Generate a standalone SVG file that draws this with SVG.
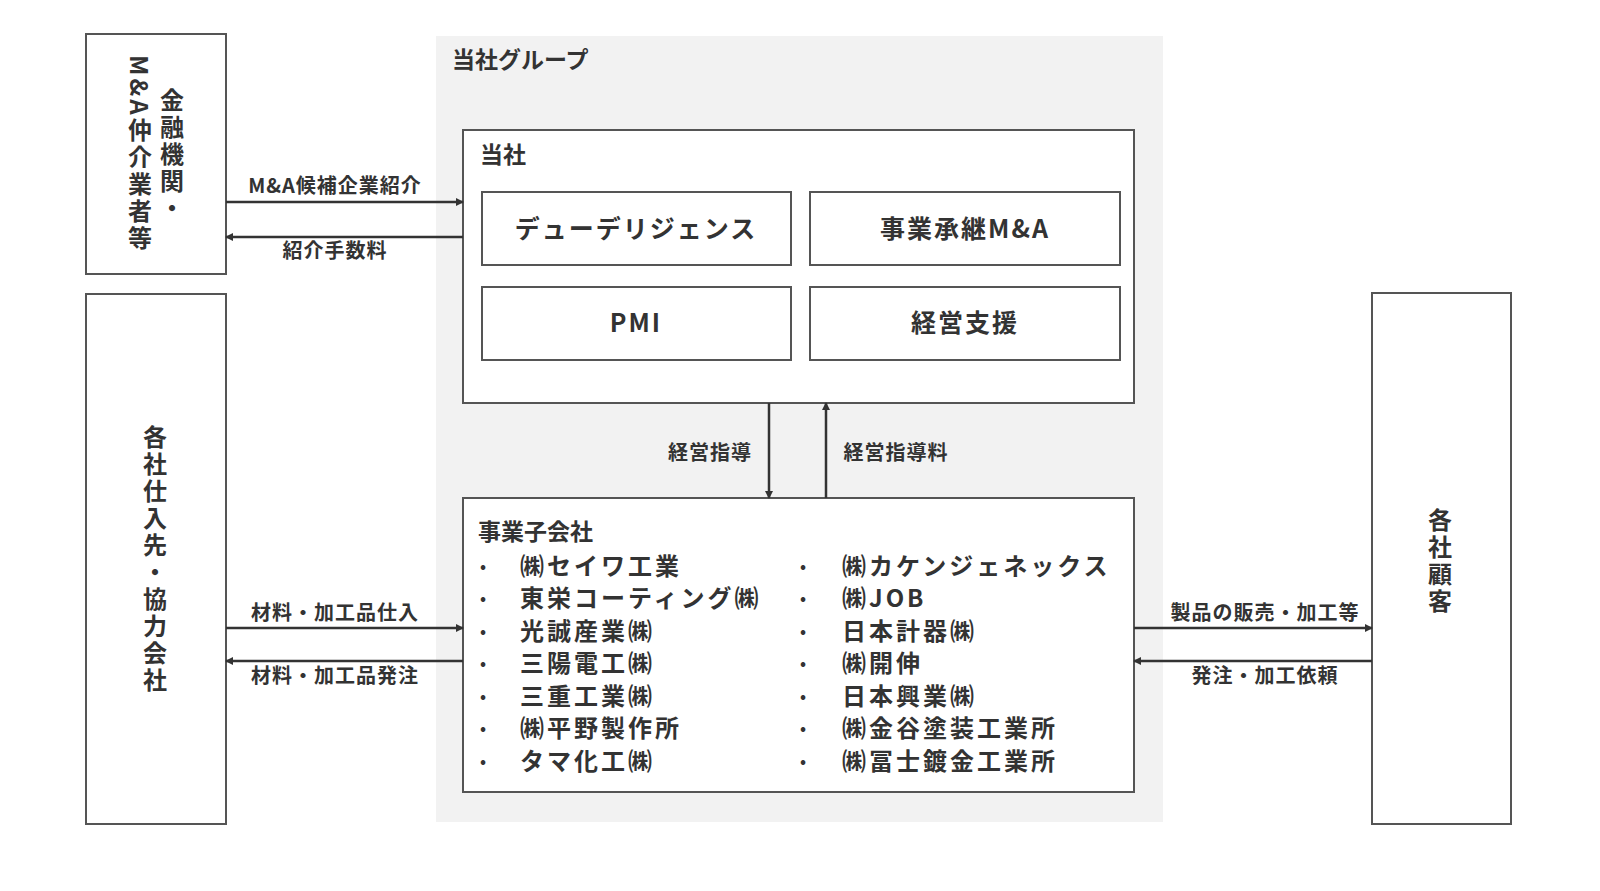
<svg xmlns="http://www.w3.org/2000/svg" width="1600" height="891" viewBox="0 0 1600 891">
<style>
text{font-family:"Noto Sans CJK JP","Liberation Sans",sans-serif;fill:#333;font-weight:bold}
.box{fill:#fff;stroke:#555;stroke-width:2}
.ln{stroke:#333;stroke-width:2.5;fill:none}
.lbl{font-size:20px;text-anchor:middle;letter-spacing:1px}
.item{font-size:24px;letter-spacing:3px}
.b{font-size:16px;letter-spacing:0}
.bt{font-size:25px;text-anchor:middle;letter-spacing:2px}
.v{writing-mode:tb;font-size:24px;letter-spacing:3px}
</style>
<defs><marker id="a" markerWidth="8" markerHeight="8" refX="7" refY="4" orient="auto" markerUnits="userSpaceOnUse"><path d="M0,0L8,4L0,8z" fill="#333"/></marker></defs>
<rect width="1600" height="891" fill="#fff"/>
<g id="group"><rect x="436" y="36" width="727" height="786" fill="#f2f2f2"/><text x="452" y="68" font-size="23">当社グループ</text></g>
<g id="lefttop"><rect class="box" x="86" y="34" width="140" height="240"/><text class="v" x="172" y="88">金融機関・</text><text class="v" x="140" y="55">M&amp;A仲介業者等</text></g>
<g id="leftbottom"><rect class="box" x="86" y="294" width="140" height="530"/><text class="v" x="155" y="425">各社仕入先・協力会社</text></g>
<g id="right"><rect class="box" x="1372" y="293" width="139" height="531"/><text class="v" x="1440" y="508">各社顧客</text></g>
<g id="tosha"><rect class="box" x="463" y="130" width="671" height="273"/><text x="480" y="163" font-size="23">当社</text>
<rect class="box" x="482" y="192" width="309" height="73"/><text class="bt" x="636" y="238">デューデリジェンス</text>
<rect class="box" x="810" y="192" width="310" height="73"/><text class="bt" x="965" y="238">事業承継M&amp;A</text>
<rect class="box" x="482" y="287" width="309" height="73"/><text class="bt" x="636" y="332">PMI</text>
<rect class="box" x="810" y="287" width="310" height="73"/><text class="bt" x="965" y="332">経営支援</text></g>
<g id="subs"><rect class="box" x="463" y="498" width="671" height="294"/><text x="478" y="540" font-size="23">事業子会社</text>
<g class="item">
<text class="b" x="480" y="572">•</text><text x="520" y="575">㈱セイワ工業</text>
<text class="b" x="480" y="604">•</text><text x="520" y="607">東栄コーティング㈱</text>
<text class="b" x="480" y="637">•</text><text x="520" y="640">光誠産業㈱</text>
<text class="b" x="480" y="669">•</text><text x="520" y="672">三陽電工㈱</text>
<text class="b" x="480" y="702">•</text><text x="520" y="705">三重工業㈱</text>
<text class="b" x="480" y="734">•</text><text x="520" y="737">㈱平野製作所</text>
<text class="b" x="480" y="767">•</text><text x="520" y="770">タマ化工㈱</text>
<text class="b" x="800" y="572">•</text><text x="842" y="575">㈱カケンジェネックス</text>
<text class="b" x="800" y="604">•</text><text x="842" y="607">㈱JOB</text>
<text class="b" x="800" y="637">•</text><text x="842" y="640">日本計器㈱</text>
<text class="b" x="800" y="669">•</text><text x="842" y="672">㈱開伸</text>
<text class="b" x="800" y="702">•</text><text x="842" y="705">日本興業㈱</text>
<text class="b" x="800" y="734">•</text><text x="842" y="737">㈱金谷塗装工業所</text>
<text class="b" x="800" y="767">•</text><text x="842" y="770">㈱冨士鍍金工業所</text>
</g></g>
<g id="connectors">
<line class="ln" x1="226" y1="202" x2="463" y2="202" marker-end="url(#a)"/>
<line class="ln" x1="463" y1="237" x2="226" y2="237" marker-end="url(#a)"/>
<line class="ln" x1="769" y1="403" x2="769" y2="498" marker-end="url(#a)"/>
<line class="ln" x1="826" y1="498" x2="826" y2="403" marker-end="url(#a)"/>
<line class="ln" x1="226" y1="628" x2="463" y2="628" marker-end="url(#a)"/>
<line class="ln" x1="463" y1="661" x2="226" y2="661" marker-end="url(#a)"/>
<line class="ln" x1="1134" y1="628" x2="1372" y2="628" marker-end="url(#a)"/>
<line class="ln" x1="1372" y1="661" x2="1134" y2="661" marker-end="url(#a)"/>
<text class="lbl" x="335" y="193">M&amp;A候補企業紹介</text>
<text class="lbl" x="335" y="258">紹介手数料</text>
<text class="lbl" x="710" y="460">経営指導</text>
<text class="lbl" x="896" y="460">経営指導料</text>
<text class="lbl" x="335" y="620">材料・加工品仕入</text>
<text class="lbl" x="335" y="683">材料・加工品発注</text>
<text class="lbl" x="1265" y="620">製品の販売・加工等</text>
<text class="lbl" x="1265" y="683">発注・加工依頼</text>
</g>
</svg>
